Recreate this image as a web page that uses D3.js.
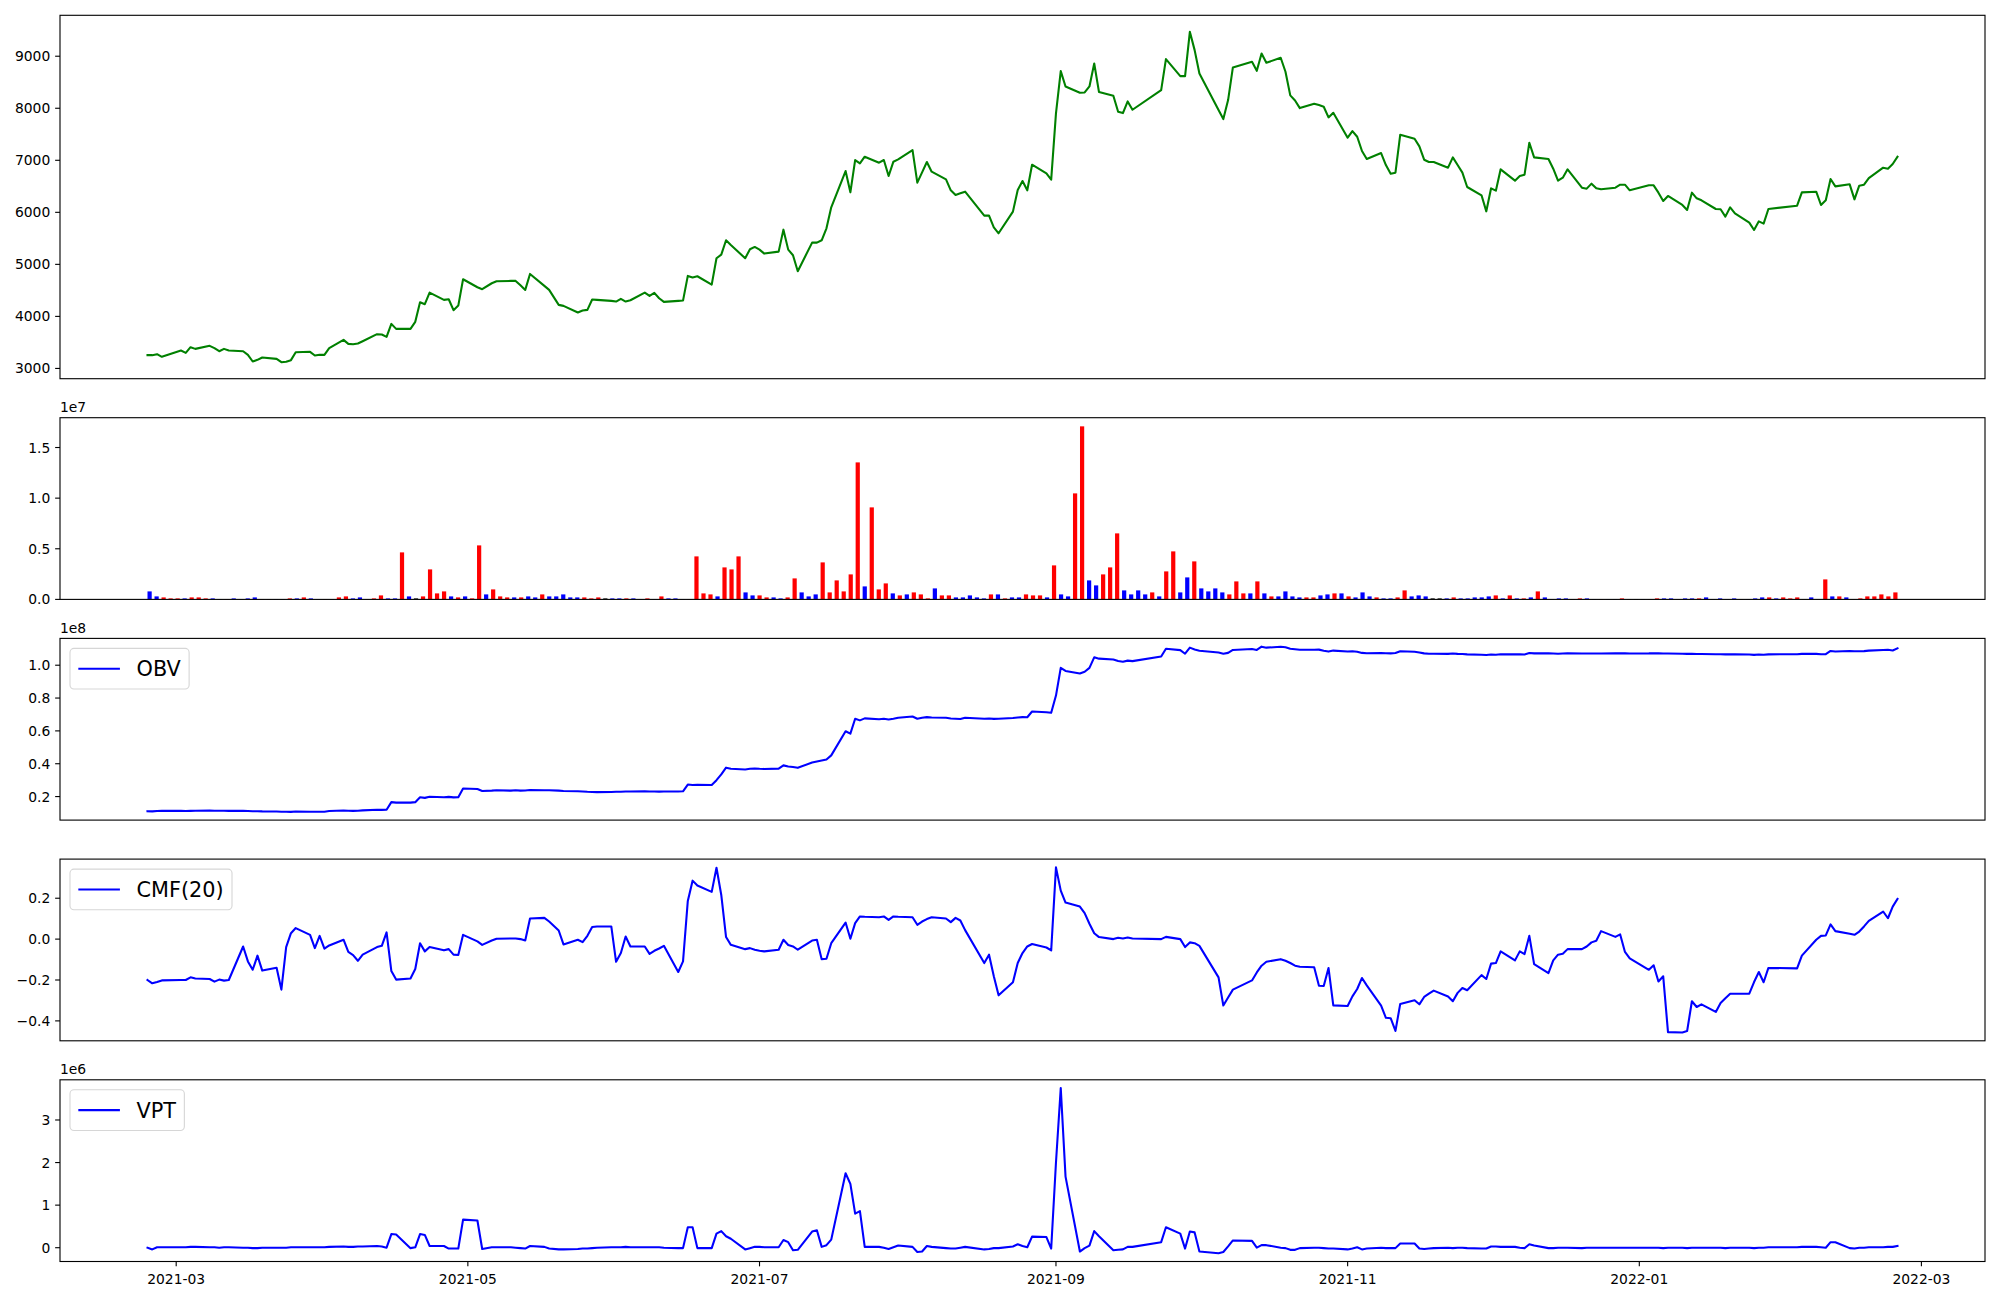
<!DOCTYPE html>
<html><head><meta charset="utf-8">
<script src="https://cdn.jsdelivr.net/npm/d3@7"></script>
<style>body{margin:0;background:#fff} svg text{font-family:"DejaVu Sans",sans-serif}</style>
</head><body><svg id="c" width="2000" height="1300"></svg>
<script>
// ---------------- DATA ----------------
const startDate = "2021-02-23", endDate = "2022-02-24";
const holidays = ["2021-03-01","2021-05-05","2021-05-19","2021-08-16","2021-09-20","2021-09-21","2021-09-22",
  "2021-10-04","2021-10-11","2021-12-31","2022-01-31","2022-02-01","2022-02-02"];

const closePrice = [
3255,3255,3274,3223,3344,3300,3408,3376,3434,3389,
3331,3376,3344,3331,3261,3133,3165,3210,3184,3120,
3127,3159,3312,3319,3248,3261,3261,3389,3549,3472,
3466,3479,3523,3658,3651,3607,3856,3760,3760,3895,
4272,4234,4458,4317,4330,4119,4208,4714,4560,4522,
4637,4675,4682,4682,4599,4509,4816,4586,4509,4221,
4202,4074,4112,4125,4324,4317,4298,4285,4336,4285,
4311,4458,4394,4452,4349,4279,4298,4304,4778,4746,
4771,4611,5117,5187,5463,5373,5117,5290,5335,5283,
5207,5245,5667,5283,5175,4868,5418,5418,5463,5693,
6096,6794,6384,7005,6941,7069,6954,7005,6698,6973,
7018,7197,6570,6768,6967,6781,6634,6423,6333,6365,
6397,5936,5936,5712,5597,6013,6429,6602,6423,6915,
6749,6627,7901,8714,8419,8298,8304,8419,8861,8311,
8240,7933,7907,8131,7971,8349,8944,8618,8618,9469,
9117,8669,7965,7792,8157,8784,8893,8720,9053,8874,
8970,8701,8247,8150,8003,8087,8061,8029,7824,7914,
7434,7562,7453,7178,7024,7139,6909,6743,6762,7491,
7414,7267,7011,6967,6967,6858,7056,6909,6762,6487,
6327,6019,6461,6416,6826,6608,6698,6723,7338,7056,
7024,6838,6608,6666,6826,6474,6455,6551,6461,6442,
6474,6531,6531,6423,6519,6519,6378,6218,6314,6141,
6045,6378,6269,6231,6064,6058,5917,6096,5981,5802,
5661,5827,5783,6064,6128,6384,6397,6141,6231,6640,
6499,6538,6250,6512,6531,6659,6858,6838,6928,7069];

const volume = [
790000,296000,198000,99000,99000,99000,198000,198000,99000,99000,
30000,30000,99000,30000,99000,198000,30000,30000,30000,30000,
99000,99000,198000,99000,30000,30000,30000,198000,296000,99000,
198000,30000,99000,395000,99000,99000,4643000,296000,99000,296000,
2963000,593000,790000,296000,198000,296000,99000,5334000,494000,988000,
296000,198000,198000,198000,296000,198000,494000,296000,296000,494000,
198000,198000,198000,99000,198000,99000,99000,99000,99000,99000,
30000,99000,30000,296000,99000,99000,30000,30000,4248000,593000,
494000,296000,3161000,2963000,4248000,691000,395000,395000,198000,198000,
99000,198000,2074000,691000,296000,494000,3655000,691000,1877000,790000,
2470000,13530000,1284000,9088000,988000,1580000,593000,395000,494000,691000,
494000,99000,1087000,395000,395000,198000,198000,395000,198000,99000,
494000,494000,99000,198000,198000,494000,395000,395000,198000,3359000,
494000,296000,10470000,17090000,1877000,1383000,2470000,3161000,6520000,889000,
494000,889000,494000,691000,296000,2766000,4742000,691000,2173000,3754000,
1087000,790000,1087000,691000,494000,1778000,593000,593000,1778000,593000,
296000,296000,790000,296000,198000,198000,198000,395000,494000,593000,
593000,296000,198000,691000,296000,198000,99000,99000,198000,889000,
296000,395000,296000,99000,99000,99000,198000,99000,99000,198000,
198000,296000,395000,99000,395000,99000,99000,198000,790000,198000,
30000,99000,99000,30000,99000,99000,30000,30000,30000,30000,
99000,30000,30000,30000,30000,99000,99000,99000,30000,99000,
99000,99000,198000,30000,99000,30000,99000,30000,30000,99000,
198000,198000,99000,198000,99000,198000,30000,198000,30000,1976000,
296000,296000,198000,30000,99000,296000,296000,494000,296000,691000];

// r = up day (red), b = down day (blue), k = unchanged (black)
const volumeDirection = (
"bbrrrbrrrb"+"brbbbbrrbb"+"rbrbbrbrrb"+"brrrbbrbkr"+"rrrbrbrrbr"+
"rrbrbbrbbb"+"bbrrrkbbrb"+"brbrbbbrrr"+"rbrrrbbrrb"+"brrbbbrrrr"+
"rrbrrrbrbr"+"rrbrrbbbbb"+"rbrbbrrrbr"+"bbrrbbrrrb"+"bbbrbrrbbr"+
"bbbbrrrbrb"+"rbbbbrrbbr"+"brbbbrbbrr"+"bbbkkbrbbb"+"bbrbrbrbrb"+
"bbbrrbbrbb"+"rrkbrrbbrb"+"brbbbbbrbb"+"brbrrrrbrr"+"brbrrrrrrr").split("");

// On-balance volume, in units of 1e8
const obv_1e8 = [
.111,.110,.112,.113,.113,.112,.113,.114,.115,.114,
.114,.114,.113,.113,.112,.111,.111,.110,.109,.108,
.108,.107,.109,.108,.108,.108,.108,.112,.115,.114,
.113,.114,.116,.120,.119,.120,.166,.163,.163,.166,
.196,.192,.199,.196,.198,.195,.196,.249,.246,.234,
.236,.238,.236,.238,.236,.237,.240,.238,.239,.236,
.234,.232,.231,.229,.228,.227,.228,.229,.229,.231,
.231,.232,.231,.231,.230,.231,.231,.232,.273,.270,
.272,.270,.300,.335,.376,.369,.365,.369,.371,.369,
.368,.370,.390,.383,.380,.375,.407,.414,.420,.426,
.451,.598,.583,.674,.664,.676,.671,.674,.669,.674,
.680,.688,.674,.680,.684,.682,.680,.676,.674,.672,
.680,.674,.675,.673,.674,.678,.682,.684,.683,.718,
.714,.710,.815,.984,.965,.950,.960,.984,1.048,1.040,
1.035,1.026,1.021,1.028,1.025,1.053,1.100,1.092,1.070,1.107,
1.096,1.088,1.077,1.070,1.075,1.093,1.099,1.093,1.113,1.107,
1.112,1.109,1.100,1.097,1.094,1.094,1.095,1.088,1.083,1.089,
1.083,1.085,1.082,1.075,1.073,1.074,1.073,1.072,1.074,1.085,
1.082,1.078,1.072,1.070,1.070,1.069,1.071,1.069,1.068,1.066,
1.064,1.062,1.065,1.064,1.067,1.066,1.067,1.065,1.074,1.072,
1.072,1.071,1.070,1.071,1.072,1.071,1.071,1.071,1.071,1.071,
1.072,1.072,1.072,1.071,1.072,1.073,1.072,1.071,1.071,1.070,
1.069,1.070,1.068,1.068,1.067,1.067,1.066,1.066,1.066,1.065,
1.063,1.065,1.064,1.066,1.067,1.069,1.069,1.067,1.067,1.087,
1.084,1.087,1.085,1.085,1.086,1.089,1.093,1.094,1.090,1.103];

const cmf20 = [
-0.200,-0.216,-0.210,-0.202,-0.200,-0.200,-0.187,-0.193,-0.195,-0.208,
-0.198,-0.203,-0.200,-0.036,-0.109,-0.150,-0.081,-0.154,-0.140,-0.247,
-0.039,0.029,0.054,0.021,-0.044,0.016,-0.047,-0.031,-0.003,-0.063,
-0.078,-0.106,-0.076,-0.039,-0.033,0.033,-0.156,-0.198,-0.193,-0.146,
-0.020,-0.060,-0.039,-0.055,-0.049,-0.076,-0.078,0.021,-0.011,-0.028,
-0.007,0.002,0.003,0.003,0.000,-0.007,0.101,0.104,0.086,0.042,
-0.026,-0.003,-0.015,0.016,0.059,0.062,0.062,-0.111,-0.068,0.013,
-0.036,-0.036,-0.072,-0.057,-0.046,-0.033,-0.161,-0.109,0.187,0.286,
0.262,0.231,0.349,0.216,0.010,-0.028,-0.049,-0.044,-0.052,-0.057,
-0.060,-0.052,-0.003,-0.029,-0.036,-0.052,-0.007,-0.003,-0.098,-0.096,
-0.020,0.081,0.002,0.078,0.111,0.109,0.107,0.111,0.094,0.111,
0.109,0.107,0.070,0.086,0.098,0.107,0.101,0.083,0.104,0.091,
0.044,-0.117,-0.076,-0.182,-0.275,-0.211,-0.117,-0.068,-0.036,-0.024,
-0.041,-0.055,0.351,0.237,0.179,0.159,0.127,0.075,0.029,0.010,
0.000,0.007,0.003,0.008,0.003,0.000,0.011,0.000,-0.039,-0.016,
-0.020,-0.033,-0.187,-0.325,-0.286,-0.247,-0.202,-0.163,-0.130,-0.111,
-0.098,-0.106,-0.117,-0.130,-0.135,-0.138,-0.228,-0.229,-0.141,-0.324,
-0.327,-0.280,-0.244,-0.190,-0.226,-0.325,-0.385,-0.387,-0.449,-0.317,
-0.299,-0.319,-0.283,-0.267,-0.252,-0.281,-0.304,-0.263,-0.239,-0.250,
-0.176,-0.195,-0.120,-0.117,-0.060,-0.104,-0.060,-0.073,0.016,-0.122,
-0.166,-0.104,-0.076,-0.072,-0.049,-0.049,-0.036,-0.016,-0.008,0.039,
0.011,0.023,-0.063,-0.094,-0.150,-0.128,-0.207,-0.182,-0.455,-0.457,
-0.450,-0.304,-0.332,-0.319,-0.356,-0.312,-0.289,-0.267,-0.267,-0.267,
-0.210,-0.161,-0.211,-0.141,-0.143,-0.081,-0.003,0.016,0.018,0.072,
0.039,0.026,0.021,0.037,0.062,0.089,0.135,0.102,0.159,0.197];

// Volume-price trend, in units of 1e6
const vpt_1e6 = [
0.00,-0.04,0.01,0.01,0.01,0.01,0.02,0.02,0.01,0.01,
0.00,0.01,0.01,0.00,0.00,-0.01,-0.01,0.00,0.00,0.00,
0.00,0.01,0.01,0.01,0.01,0.01,0.01,0.02,0.03,0.02,
0.02,0.03,0.03,0.04,0.03,0.00,0.32,0.31,-0.01,0.01,
0.32,0.30,0.04,0.04,-0.02,-0.02,-0.02,0.66,0.64,-0.03,
0.01,0.01,0.01,0.00,-0.01,-0.02,0.04,0.02,-0.02,-0.04,
-0.04,-0.03,-0.02,-0.02,-0.01,0.00,0.01,0.01,0.01,0.02,
0.01,0.01,0.01,0.01,0.01,0.00,-0.01,-0.01,0.48,0.48,
-0.01,-0.01,0.33,0.39,0.27,0.21,-0.04,-0.01,0.02,0.02,
0.01,0.01,0.18,0.13,-0.06,-0.05,0.38,0.41,0.02,0.06,
0.19,1.75,1.50,0.80,0.86,0.02,0.02,0.00,-0.03,0.01,
0.05,0.02,-0.10,-0.09,0.04,0.02,-0.01,-0.02,-0.02,0.00,
0.02,-0.04,-0.03,-0.01,-0.01,0.03,0.08,0.04,0.01,0.26,
0.25,-0.02,2.00,3.75,1.67,-0.09,-0.01,0.05,0.39,0.27,
-0.06,-0.05,-0.04,0.02,0.02,0.13,0.48,0.33,-0.02,0.38,
0.36,-0.09,-0.13,-0.10,0.03,0.17,0.16,0.00,0.06,0.06,
0.00,-0.01,-0.05,-0.05,-0.01,0.00,0.00,-0.01,-0.02,-0.02,
-0.04,-0.02,0.01,-0.04,-0.02,0.00,-0.01,-0.01,-0.01,0.10,
0.10,-0.02,-0.03,-0.02,-0.01,0.00,-0.01,0.00,0.00,-0.01,
-0.02,-0.02,0.03,0.03,0.02,0.02,0.00,-0.01,0.08,0.05,
-0.01,-0.01,0.00,0.00,0.00,-0.01,0.00,0.00,0.00,0.00,
0.00,0.00,0.00,0.00,0.00,0.00,0.00,-0.01,0.00,0.00,
-0.01,0.00,0.00,0.00,0.00,0.00,-0.01,0.00,0.00,0.00,
-0.01,0.00,0.00,0.01,0.01,0.02,0.02,0.01,0.00,0.13,
0.13,-0.01,-0.02,0.00,0.00,0.01,0.01,0.02,0.02,0.04];

const priceTicks = [3000,4000,5000,6000,7000,8000,9000];
const volumeTicks = [0, 5000000, 10000000, 15000000];
const volumeTickLabels = ["0.0","0.5","1.0","1.5"];
const obvTicks = [0.2,0.4,0.6,0.8,1.0];
const obvTickLabels = ["0.2","0.4","0.6","0.8","1.0"];
const cmfTicks = [-0.4,-0.2,0.0,0.2];
const cmfTickLabels = ["\u22120.4","\u22120.2","0.0","0.2"];
const vptTicks = [0,1,2,3];
const vptTickLabels = ["0","1","2","3"];
const xTickDates = ["2021-03-01","2021-05-01","2021-07-01","2021-09-01","2021-11-01","2022-01-01","2022-03-01"];
const xTickLabels = ["2021-03","2021-05","2021-07","2021-09","2021-11","2022-01","2022-03"];

// ---------------- BUILD ----------------
const parse = d3.utcParse("%Y-%m-%d");
const fmt = d3.utcFormat("%Y-%m-%d");
const hol = new Set(holidays);
const dates = [];
for (let d = parse(startDate); d <= parse(endDate); d = d3.utcDay.offset(d, 1)) {
  const wd = d.getUTCDay();
  if (wd === 0 || wd === 6 || hol.has(fmt(d))) continue;
  dates.push(d);
}

const svg = d3.select("#c");
svg.append("rect").attr("width",2000).attr("height",1300).attr("fill","#fff");
const L = 60, R = 1985;
const FS = 13.89, TL = 4.86, LW = 2.08;
const panels = [
  {top: 15.3, bottom: 378.7},
  {top: 417.7, bottom: 599.4},
  {top: 638.4, bottom: 820.1},
  {top: 859.1, bottom: 1040.8},
  {top: 1079.8, bottom: 1261.5}
];
function padded(ext){ const r = ext[1]-ext[0]; return [ext[0]-0.05*r, ext[1]+0.05*r]; }

const t0 = dates[0].getTime(), t1 = dates[dates.length-1].getTime(), sp = t1 - t0;
const x = d3.scaleUtc().domain([new Date(t0-0.05*sp), new Date(t1+0.05*sp)]).range([L, R]);

function yAxis(g, y, ticks, labels){
  ticks.forEach((t,i)=>{
    const yy = y(t);
    g.append("line").attr("x1",L-TL).attr("x2",L).attr("y1",yy).attr("y2",yy)
      .attr("stroke","#000").attr("stroke-width",1.11);
    g.append("text").attr("x",L-2*TL).attr("y",yy).attr("dy","0.36em")
      .attr("text-anchor","end").attr("font-size",FS).attr("fill","#000").text(labels[i]);
  });
}
function frame(p){
  svg.append("rect").attr("x",L).attr("y",p.top).attr("width",R-L).attr("height",p.bottom-p.top)
    .attr("fill","none").attr("stroke","#000").attr("stroke-width",1.11);
}
function offsetText(p, txt){
  svg.append("text").attr("x",L).attr("y",p.top-5.5).attr("font-size",FS).attr("fill","#000").text(txt);
}
function legend(p, label){
  const g = svg.append("g");
  const fs = 20.8;
  const tmp = g.append("text").attr("font-size",fs).text(label);
  const tw = tmp.node().getComputedTextLength();
  tmp.remove();
  const pad = 0.4*fs, hl = 2*fs, tp = 0.8*fs;
  const bx = L+10, by = p.top+10, bw = pad+hl+tp+tw+pad, bh = 2*pad+24;
  g.append("rect").attr("x",bx).attr("y",by).attr("width",bw).attr("height",bh).attr("rx",4)
    .attr("fill","#fff").attr("fill-opacity",0.8).attr("stroke","#cccccc").attr("stroke-opacity",0.8).attr("stroke-width",1.11);
  const cy = by + bh/2;
  g.append("line").attr("x1",bx+pad).attr("x2",bx+pad+hl).attr("y1",cy).attr("y2",cy)
    .attr("stroke","#0000ff").attr("stroke-width",LW);
  g.append("text").attr("x",bx+pad+hl+tp).attr("y",cy).attr("dy","0.36em").attr("font-size",fs).attr("fill","#000").text(label);
}
function linePanel(p, vals, color){
  const y = d3.scaleLinear().domain(padded(d3.extent(vals))).range([p.bottom, p.top]);
  const line = d3.line().x((d,i)=>x(dates[i])).y(d=>y(d));
  svg.append("path").datum(vals).attr("d",line).attr("fill","none").attr("stroke",color)
    .attr("stroke-width",LW).attr("stroke-linejoin","round").attr("stroke-linecap","square");
  return y;
}

// Panel 1: price
{
  const p = panels[0];
  const y = linePanel(p, closePrice, "#008000");
  yAxis(svg.append("g"), y, priceTicks, priceTicks.map(String));
  frame(p);
}
// Panel 2: volume bars (index axis)
{
  const p = panels[1];
  const n = volume.length, bw = 0.6;
  const ext = [-bw/2, n-1+bw/2];
  const xi = d3.scaleLinear().domain(padded(ext)).range([L, R]);
  const y = d3.scaleLinear().domain([0, 1.05*d3.max(volume)]).range([p.bottom, p.top]);
  const cmap = {r:"#ff0000", b:"#0000ff", k:"#000000"};
  svg.append("g").selectAll("rect").data(volume).join("rect")
    .attr("x",(d,i)=>xi(i-bw/2)).attr("width",xi(bw)-xi(0))
    .attr("y",d=>y(d)).attr("height",d=>y(0)-y(d))
    .attr("fill",(d,i)=>cmap[volumeDirection[i]]);
  yAxis(svg.append("g"), y, volumeTicks, volumeTickLabels);
  offsetText(p, "1e7");
  frame(p);
}
// Panel 3: OBV
{
  const p = panels[2];
  const y = linePanel(p, obv_1e8, "#0000ff");
  yAxis(svg.append("g"), y, obvTicks, obvTickLabels);
  offsetText(p, "1e8");
  legend(p, "OBV");
  frame(p);
}
// Panel 4: CMF
{
  const p = panels[3];
  const y = linePanel(p, cmf20, "#0000ff");
  yAxis(svg.append("g"), y, cmfTicks, cmfTickLabels);
  legend(p, "CMF(20)");
  frame(p);
}
// Panel 5: VPT
{
  const p = panels[4];
  const y = linePanel(p, vpt_1e6, "#0000ff");
  yAxis(svg.append("g"), y, vptTicks, vptTickLabels);
  offsetText(p, "1e6");
  legend(p, "VPT");
  frame(p);
  xTickDates.forEach((ds,i)=>{
    const xx = x(parse(ds));
    svg.append("line").attr("x1",xx).attr("x2",xx).attr("y1",p.bottom).attr("y2",p.bottom+TL)
      .attr("stroke","#000").attr("stroke-width",1.11);
    svg.append("text").attr("x",xx).attr("y",p.bottom+2*TL+12.3).attr("text-anchor","middle")
      .attr("font-size",FS).attr("fill","#000").text(xTickLabels[i]);
  });
}
</script></body></html>
